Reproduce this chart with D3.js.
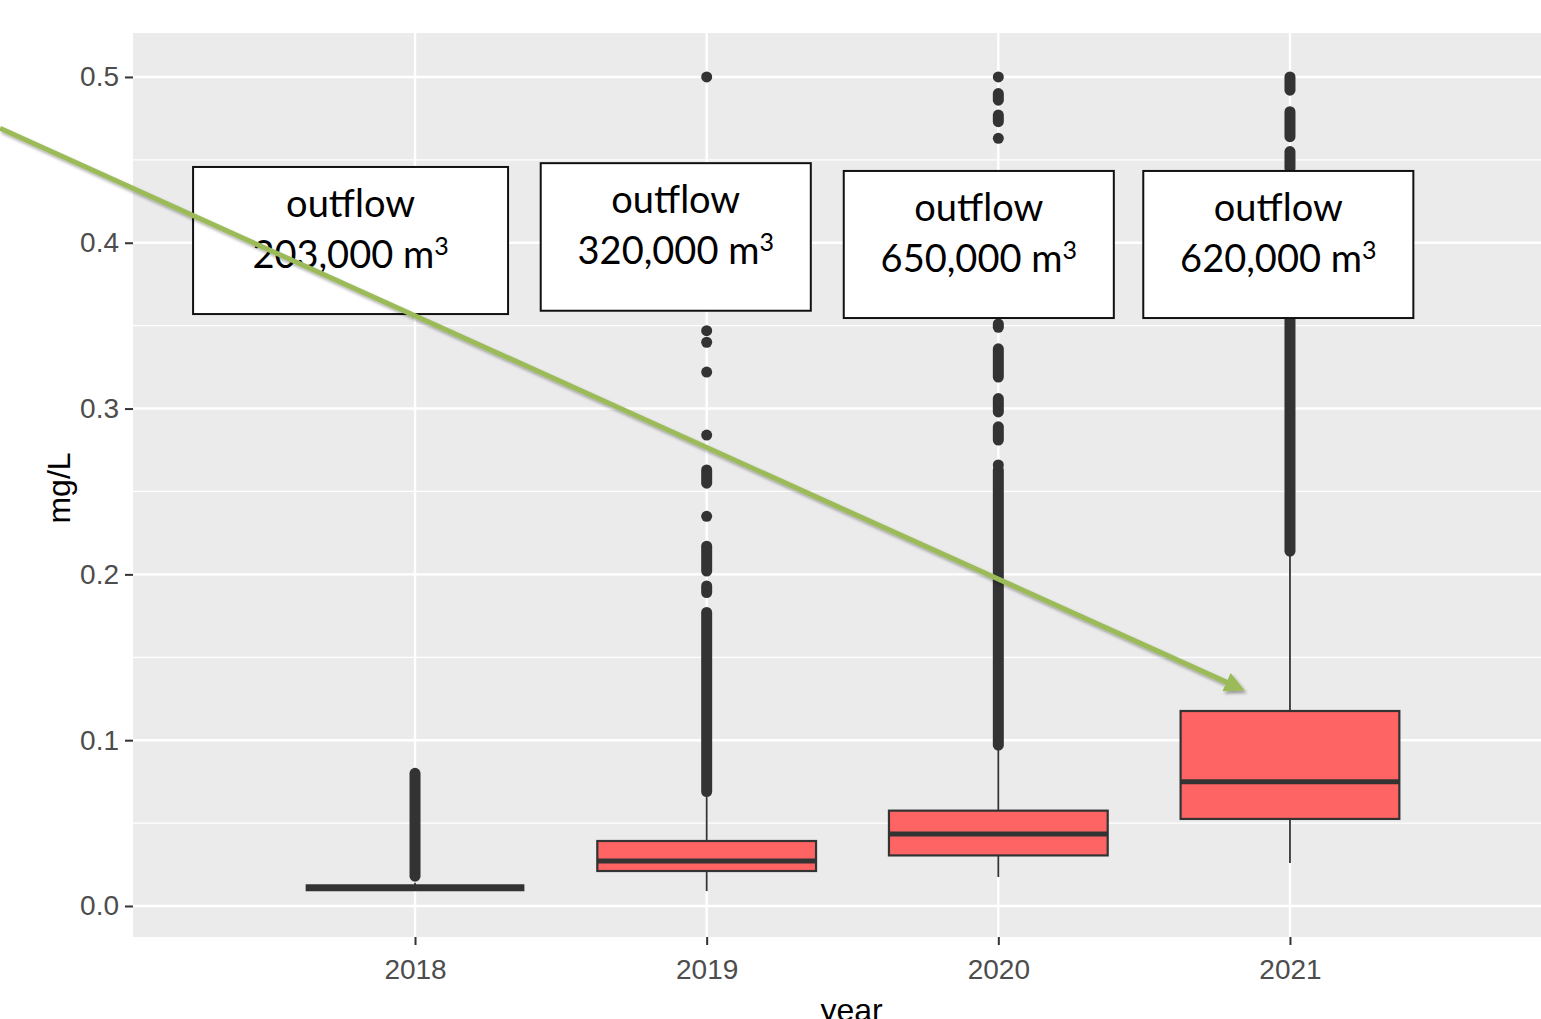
<!DOCTYPE html>
<html>
<head>
<meta charset="utf-8">
<script src="https://cdn.jsdelivr.net/npm/d3@7"></script>
<style>
  body { margin: 0; background: #fff; }
  svg text { font-family: "Liberation Sans", Arial, sans-serif; }
</style>
</head>
<body>
<div id="chart"></div>
<script>
// boxplot statistics (mg/L)
const years = ['2018', '2019', '2020', '2021'];
const whiskerLow = [0.009, 0.009, 0.0175, 0.026];
const q1 = [0.011, 0.0211, 0.0305, 0.0525];
const medians = [0.011, 0.0271, 0.0434, 0.075];
const q3 = [0.011, 0.0392, 0.0575, 0.1176];
const whiskerHigh = [0.014, 0.0657, 0.094, 0.2117];

// outliers: single points, and runs where the points overlap into a solid column
const outlierPoints = [
    [],
    [0.235, 0.284, 0.322, 0.340, 0.347, 0.5],
    [0.266, 0.463, 0.5],
    []
];
const outlierRuns = [
    [[0.018, 0.080]],
    [[0.069, 0.177], [0.189, 0.193], [0.202, 0.217], [0.255, 0.263]],
    [[0.097, 0.263], [0.281, 0.289], [0.298, 0.306], [0.319, 0.336], [0.349, 0.351], [0.473, 0.477], [0.486, 0.490]],
    [[0.214, 0.36], [0.445, 0.455], [0.464, 0.479], [0.492, 0.5]]
];

// annotation labels
const outflowLabels = ['203,000', '320,000', '650,000', '620,000'];
const yTicks = [0, 0.1, 0.2, 0.3, 0.4, 0.5];
const yMinor = [0.05, 0.15, 0.25, 0.35, 0.45];

const width = 1541, height = 1019;
const panel = { left: 133, top: 33, right: 1572, bottom: 937 };

const svg = d3.select('#chart').append('svg')
    .attr('width', width)
    .attr('height', height);

svg.append('rect').attr('width', width).attr('height', height).attr('fill', '#fff');

const x = d3.scalePoint()
    .domain(years)
    .range([panel.left, panel.right])
    .padding(0.967);

const y = d3.scaleLinear()
    .domain([-0.0187, 0.5265])
    .range([panel.bottom, panel.top]);

const step = x.step();
const boxW = step * 0.75;
const r = 5.5;

// panel background + grid
svg.append('rect')
    .attr('x', panel.left).attr('y', panel.top)
    .attr('width', panel.right - panel.left).attr('height', panel.bottom - panel.top)
    .attr('fill', '#EBEBEB');

svg.append('g').selectAll('line').data(yMinor).join('line')
    .attr('x1', panel.left).attr('x2', panel.right)
    .attr('y1', d => y(d)).attr('y2', d => y(d))
    .attr('stroke', '#fff').attr('stroke-width', 1.2);

svg.append('g').selectAll('line').data(yTicks).join('line')
    .attr('x1', panel.left).attr('x2', panel.right)
    .attr('y1', d => y(d)).attr('y2', d => y(d))
    .attr('stroke', '#fff').attr('stroke-width', 2.4);

svg.append('g').selectAll('line').data(years).join('line')
    .attr('x1', d => x(d)).attr('x2', d => x(d))
    .attr('y1', panel.top).attr('y2', panel.bottom)
    .attr('stroke', '#fff').attr('stroke-width', 2.4);

// boxplots
const stats = years.map((yr, i) => ({
    year: yr, lo: whiskerLow[i], q1: q1[i], med: medians[i], q3: q3[i], hi: whiskerHigh[i],
    points: outlierPoints[i], runs: outlierRuns[i]
}));

const g = svg.append('g');

// whiskers
g.selectAll('.whisker-lo').data(stats).join('line')
    .attr('x1', d => x(d.year)).attr('x2', d => x(d.year))
    .attr('y1', d => y(d.lo)).attr('y2', d => y(d.q1))
    .attr('stroke', '#333').attr('stroke-width', 1.8);
g.selectAll('.whisker-hi').data(stats).join('line')
    .attr('x1', d => x(d.year)).attr('x2', d => x(d.year))
    .attr('y1', d => y(d.q3)).attr('y2', d => y(d.hi))
    .attr('stroke', '#333').attr('stroke-width', 1.8);

// outliers
stats.forEach(s => {
    g.selectAll(null).data(s.runs).join('line')
        .attr('x1', x(s.year)).attr('x2', x(s.year))
        .attr('y1', d => y(d[0])).attr('y2', d => y(d[1]))
        .attr('stroke', '#333').attr('stroke-width', r * 2)
        .attr('stroke-linecap', 'round');
    g.selectAll(null).data(s.points).join('circle')
        .attr('cx', x(s.year)).attr('cy', d => y(d))
        .attr('r', r).attr('fill', '#333');
});

// boxes
g.selectAll('.box').data(stats).join('rect')
    .attr('x', d => x(d.year) - boxW / 2)
    .attr('y', d => y(d.q3))
    .attr('width', boxW)
    .attr('height', d => y(d.q1) - y(d.q3))
    .attr('fill', '#FF6464')
    .attr('stroke', '#333').attr('stroke-width', 2.2);

// the 2018 box collapses to one line, which comes out heavier
g.selectAll('.median').data(stats).join('line')
    .attr('x1', d => x(d.year) - boxW / 2).attr('x2', d => x(d.year) + boxW / 2)
    .attr('y1', d => y(d.med)).attr('y2', d => y(d.med))
    .attr('stroke', '#333').attr('stroke-width', d => d.q1 === d.q3 ? 7 : 5);

// axes
const yAxis = svg.append('g')
    .attr('transform', 'translate(' + panel.left + ',0)')
    .call(d3.axisLeft(y).tickValues(yTicks).tickFormat(d3.format('.1f')).tickSize(8).tickPadding(6));
yAxis.select('.domain').remove();
yAxis.selectAll('.tick line').attr('stroke', '#333').attr('stroke-width', 2);
yAxis.selectAll('.tick text').attr('fill', '#4D4D4D').style('font-size', '28px');

const xAxis = svg.append('g')
    .attr('transform', 'translate(0,' + panel.bottom + ')')
    .call(d3.axisBottom(x).tickSize(8).tickPadding(14));
xAxis.select('.domain').remove();
xAxis.selectAll('.tick line').attr('stroke', '#333').attr('stroke-width', 2);
xAxis.selectAll('.tick text').attr('fill', '#4D4D4D').style('font-size', '28px');

svg.append('text')
    .attr('x', (panel.left + panel.right) / 2 - 1)
    .attr('y', 1021)
    .attr('text-anchor', 'middle')
    .style('font-size', '32px')
    .attr('fill', '#000')
    .text('year');

svg.append('text')
    .attr('transform', 'translate(70,' + ((panel.top + panel.bottom) / 2 + 3) + ') rotate(-90)')
    .attr('text-anchor', 'middle')
    .style('font-size', '32px')
    .attr('fill', '#000')
    .text('mg/L');

// annotation boxes (layout in data units: offset from year, width in steps, top/bottom in mg/L)
const annoLayout = [
    { dx: -0.221, w: 1.08, top: 0.4457, bottom: 0.357 },
    { dx: -0.106, w: 0.926, top: 0.448, bottom: 0.359 },
    { dx: -0.067, w: 0.926, top: 0.4433, bottom: 0.3546 },
    { dx: -0.04, w: 0.926, top: 0.4433, bottom: 0.3546 }
];

const annoFont = 'Lato, "Open Sans", sans-serif';
const anno = svg.append('g').selectAll('g').data(years).join('g');
anno.append('rect')
    .attr('x', (d, i) => x(d) + (annoLayout[i].dx - annoLayout[i].w / 2) * step)
    .attr('y', (d, i) => y(annoLayout[i].top))
    .attr('width', (d, i) => annoLayout[i].w * step)
    .attr('height', (d, i) => y(annoLayout[i].bottom) - y(annoLayout[i].top))
    .attr('fill', '#fff').attr('stroke', '#111').attr('stroke-width', 2);
anno.append('text')
    .attr('x', (d, i) => x(d) + annoLayout[i].dx * step)
    .attr('y', (d, i) => y(annoLayout[i].top) + 50)
    .attr('text-anchor', 'middle')
    .style('font-family', annoFont)
    .style('font-size', '38px')
    .attr('fill', '#000')
    .text('outflow');
const line2 = anno.append('text')
    .attr('x', (d, i) => x(d) + annoLayout[i].dx * step)
    .attr('y', (d, i) => y(annoLayout[i].top) + 101)
    .attr('text-anchor', 'middle')
    .style('font-family', annoFont)
    .style('font-size', '38px')
    .attr('fill', '#000');
line2.append('tspan').text((d, i) => outflowLabels[i] + ' m');
line2.append('tspan')
    .attr('dy', -13)
    .style('font-size', '25px')
    .text('3');

// green trend arrow, ends placed in data units (year index, mg/L)
const defs = svg.append('defs');
const shadow = defs.append('filter').attr('id', 'shadow')
    .attr('x', '-5%').attr('y', '-5%').attr('width', '110%').attr('height', '110%');
shadow.append('feDropShadow')
    .attr('dx', 2).attr('dy', 2.5).attr('stdDeviation', 1.5)
    .attr('flood-color', '#000').attr('flood-opacity', 0.35);
defs.append('marker')
    .attr('id', 'arrowhead')
    .attr('viewBox', '0 0 10 10')
    .attr('refX', 6).attr('refY', 5)
    .attr('markerWidth', 4.6).attr('markerHeight', 4)
    .attr('markerUnits', 'strokeWidth')
    .attr('orient', 'auto')
    .append('path').attr('d', 'M0,0 L10,5 L0,10 Z').attr('fill', '#9BBB59');

const arrowStart = { idx: -1.423, v: 0.469 };
const arrowEnd = { idx: 2.82, v: 0.132 };
const xIdx = i => x(years[0]) + i * step;

svg.append('line')
    .attr('x1', xIdx(arrowStart.idx)).attr('y1', y(arrowStart.v))
    .attr('x2', xIdx(arrowEnd.idx)).attr('y2', y(arrowEnd.v))
    .attr('stroke', '#9BBB59').attr('stroke-width', 5)
    .attr('marker-end', 'url(#arrowhead)')
    .attr('filter', 'url(#shadow)');
</script>
</body>
</html>
